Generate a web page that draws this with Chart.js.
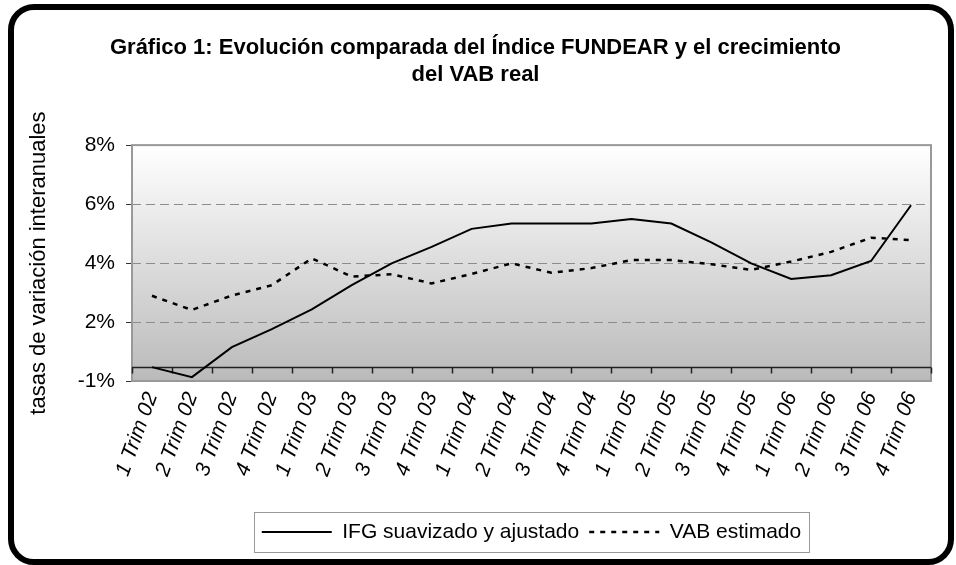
<!DOCTYPE html>
<html>
<head>
<meta charset="utf-8">
<script src="https://cdn.jsdelivr.net/npm/chart.js@4"></script>
<style>
  html, body { margin: 0; padding: 0; background: #fff; }
  #wrap { position: relative; width: 956px; height: 565px; }
  #chart { position: absolute; left: 0; top: 0; }
  #frame { position: absolute; left: 8px; top: 4px; width: 934px; height: 549px;
           border: 6px solid #000; border-radius: 26px; pointer-events: none; }
</style>
</head>
<body>
<div id="wrap">
  <canvas id="chart" width="956" height="565"></canvas>
  <div id="frame"></div>
</div>
<script>
// quarters on the x axis
const categories = [
  '1 Trim 02', '2 Trim 02', '3 Trim 02', '4 Trim 02',
  '1 Trim 03', '2 Trim 03', '3 Trim 03', '4 Trim 03',
  '1 Trim 04', '2 Trim 04', '3 Trim 04', '4 Trim 04',
  '1 Trim 05', '2 Trim 05', '3 Trim 05', '4 Trim 05',
  '1 Trim 06', '2 Trim 06', '3 Trim 06', '4 Trim 06'
];

// values, in the chart's own axis units
const ifgValues = [0.47, 0.13, 1.15, 1.76, 2.43, 3.25, 3.99, 4.55, 5.16, 5.34,
                   5.34, 5.34, 5.49, 5.34, 4.70, 3.99, 3.46, 3.59, 4.07, 5.96];
const vabValues = [2.89, 2.41, 2.90, 3.25, 4.16, 3.54, 3.62, 3.31, 3.63, 3.99,
                   3.67, 3.83, 4.10, 4.10, 3.96, 3.77, 4.05, 4.38, 4.86, 4.78];

// y ticks and the labels printed on them
const yTickValues = [0, 2, 4, 6, 8];
const yTickLabels = ['-1%', '2%', '4%', '6%', '8%'];

// where the category axis line crosses the value axis
const axisCrossValue = 0.47;

const FONT = '"Liberation Sans", Arial, sans-serif';

// plot background, frame and the crossing category axis
const plotDecor = {
  id: 'plotDecor',
  beforeDraw(chart) {
    const { ctx, chartArea: a } = chart;
    const g = ctx.createLinearGradient(0, a.top, 0, a.bottom);
    g.addColorStop(0, '#ffffff');
    g.addColorStop(1, '#bababa');
    ctx.save();
    ctx.fillStyle = g;
    ctx.fillRect(a.left, a.top, a.right - a.left, a.bottom - a.top);
    ctx.restore();
  },
  beforeDatasetsDraw(chart) {
    const { ctx, chartArea: a, scales } = chart;
    ctx.save();
    ctx.strokeStyle = '#999';
    ctx.lineWidth = 2;
    ctx.strokeRect(a.left, a.top, a.right - a.left, a.bottom - a.top);

    const y = Math.round(scales.y.getPixelForValue(axisCrossValue)) + 0.5;
    ctx.strokeStyle = '#222';
    ctx.lineWidth = 1.5;
    ctx.beginPath();
    ctx.moveTo(a.left, y);
    ctx.lineTo(a.right, y);
    for (let i = 0; i <= categories.length; i++) {
      const x = Math.round(scales.x.getPixelForValue(i - 0.5)) + 0.5;
      ctx.moveTo(x, y);
      ctx.lineTo(x, y + 6);
    }
    ctx.stroke();
    ctx.restore();
  },
  afterDraw(chart) {
    const lg = chart.legend;
    const hb = lg.legendHitBoxes;
    if (!hb || !hb.length) return;
    const left = Math.min(...hb.map(h => h.left)) - 8;
    const right = Math.max(...hb.map(h => h.left + h.width)) + 8;
    const cy = hb[0].top + hb[0].height / 2;
    const ctx = chart.ctx;
    ctx.save();
    ctx.strokeStyle = '#999';
    ctx.lineWidth = 1;
    ctx.strokeRect(Math.round(left) + 0.5, Math.round(cy - 20) + 0.5, Math.round(right - left), 40);
    ctx.restore();
  }
};

new Chart(document.getElementById('chart'), {
  type: 'line',
  data: {
    labels: categories,
    datasets: [
      { label: 'IFG suavizado y ajustado', data: ifgValues, borderColor: '#000',
        backgroundColor: '#000', borderWidth: 2, pointRadius: 0, tension: 0 },
      { label: 'VAB estimado', data: vabValues, borderColor: '#000',
        backgroundColor: '#000', borderWidth: 2.5, borderDash: [5, 6],
        pointRadius: 0, tension: 0 }
    ]
  },
  options: {
    responsive: false,
    animation: false,
    layout: { padding: { left: 20, right: 25, top: 0, bottom: 12.5 } },
    plugins: {
      title: {
        display: true,
        text: ['Gráfico 1: Evolución comparada del Índice FUNDEAR y el crecimiento', 'del VAB real'],
        color: '#000',
        font: { family: FONT, size: 22, weight: 'bold', lineHeight: 1.23 },
        padding: { top: 34.5, bottom: 56.5 }
      },
      legend: {
        position: 'bottom',
        fullSize: false,
        labels: {
          usePointStyle: true,
          pointStyle: 'line',
          pointStyleWidth: 70,
          padding: 10,
          color: '#000',
          font: { family: FONT, size: 21 },
          generateLabels: chart => chart.data.datasets.map((ds, i) => ({
            text: ds.label,
            datasetIndex: i,
            hidden: false,
            strokeStyle: ds.borderColor,
            fillStyle: ds.borderColor,
            lineWidth: ds.borderWidth,
            lineDash: ds.borderDash || [],
            pointStyle: 'line',
            fontColor: '#000'
          }))
        }
      },
      tooltip: { enabled: false }
    },
    scales: {
      x: {
        offset: true,
        grid: { display: false, drawTicks: false },
        border: { display: false },
        ticks: {
          autoSkip: false, maxRotation: 70, minRotation: 70, padding: 8,
          color: '#000', font: { family: FONT, size: 21, style: 'italic' }
        },
        afterFit: s => { s.height = 130.5; }
      },
      y: {
        min: 0, max: 8,
        afterBuildTicks: s => { s.ticks = yTickValues.map(v => ({ value: v })); },
        grid: {
          color: c => (c.tick && (c.tick.value === 0 || c.tick.value === 8)) ? 'rgba(0,0,0,0)' : '#8c8c8c',
          lineWidth: 1,
          tickColor: '#333',
          tickLength: 6
        },
        border: { display: false, dash: [9, 5] },
        ticks: {
          padding: 11, color: '#000',
          font: { family: FONT, size: 21 },
          callback: v => yTickLabels[yTickValues.indexOf(v)]
        },
        title: {
          display: true,
          text: 'tasas de variación interanuales',
          color: '#000',
          font: { family: FONT, size: 22 },
          padding: { top: 6, bottom: 0 }
        },
        afterFit: s => { s.width = 112; }
      }
    }
  },
  plugins: [plotDecor]
});
</script>
</body>
</html>
